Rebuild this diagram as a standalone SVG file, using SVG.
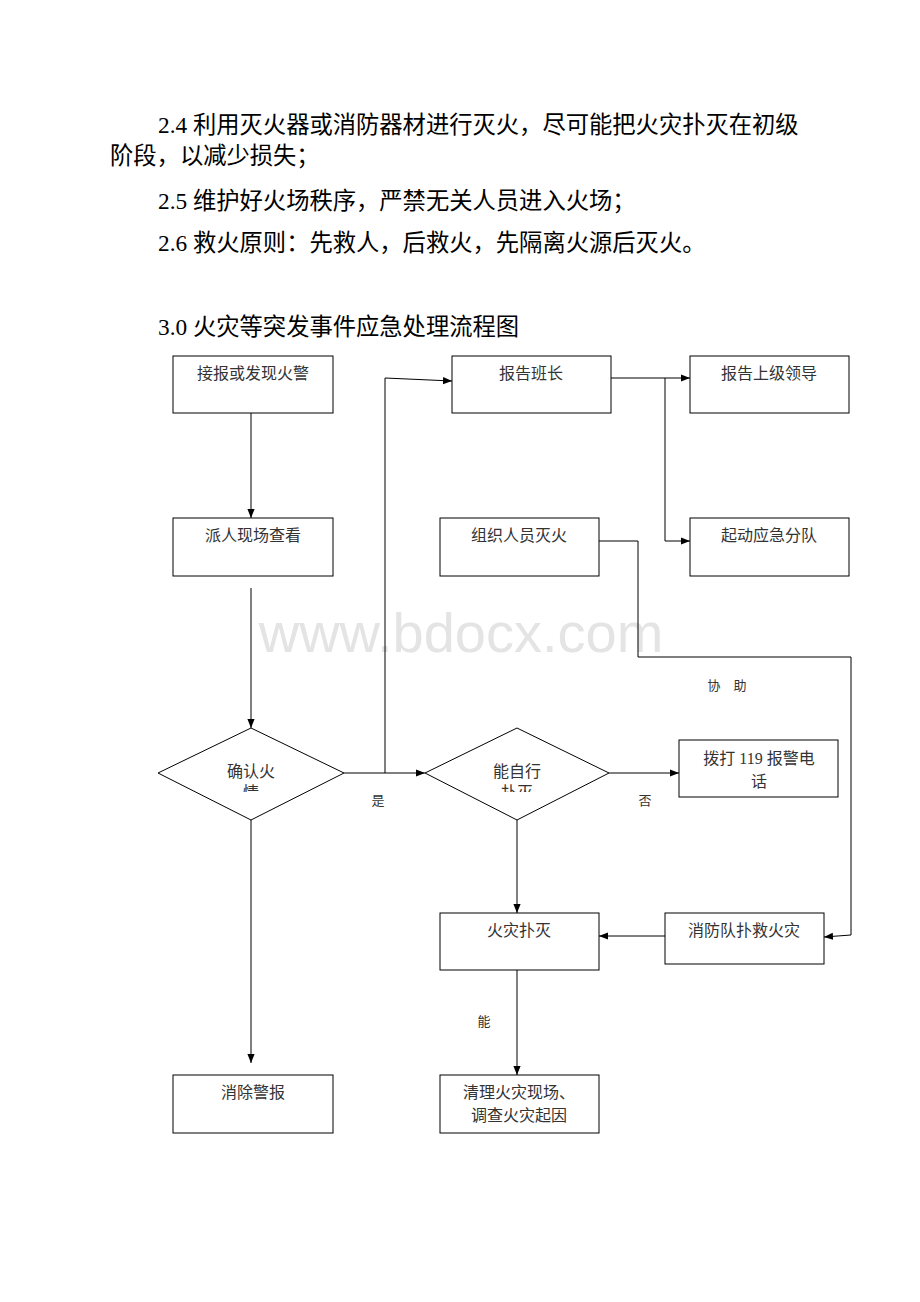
<svg xmlns="http://www.w3.org/2000/svg" width="920" height="1302" viewBox="0 0 920 1302">
<style>
.p{font-family:"Liberation Serif","Noto Sans CJK SC",serif;font-size:23.3px;fill:#000}
.n{fill:#fff;stroke:#000;stroke-width:1}
.t{font-family:"Liberation Serif","Noto Sans CJK SC",serif;font-size:16px;fill:#333;text-anchor:middle}
.l{font-family:"Liberation Serif","Noto Sans CJK SC",serif;font-size:13px;fill:#333;text-anchor:middle}
.c{fill:none;stroke:#000;stroke-width:1}
</style>
<defs>
<marker id="a" viewBox="0 0 10 10" refX="10" refY="5" markerWidth="9" markerHeight="9" markerUnits="userSpaceOnUse" orient="auto"><path d="M0,1 L10,5 L0,9 z" fill="#000"/></marker>
<clipPath id="cl1"><rect x="150" y="760" width="200" height="32"/></clipPath>
<clipPath id="cl2"><rect x="420" y="760" width="200" height="32"/></clipPath>
</defs>
<rect width="920" height="1302" fill="#fff"/>
<g id="text-body">
<text class="p" x="158" y="133">2.4 利用灭火器或消防器材进行灭火，尽可能把火灾扑灭在初级</text>
<text class="p" x="110" y="164">阶段，以减少损失；</text>
<text class="p" x="158" y="209">2.5 维护好火场秩序，严禁无关人员进入火场；</text>
<text class="p" x="158" y="251">2.6 救火原则：先救人，后救火，先隔离火源后灭火。</text>
<text class="p" x="158" y="335">3.0 火灾等突发事件应急处理流程图</text>
</g>
<text x="461" y="652" font-family="Liberation Sans,Arial,sans-serif" font-size="56" fill="#e4e4e4" text-anchor="middle">www.bdocx.com</text>
<g id="connectors">
<path class="c" d="M251,413 V518" marker-end="url(#a)"/>
<path class="c" d="M251,588 V728" marker-end="url(#a)"/>
<path class="c" d="M344,773 H425" marker-end="url(#a)"/>
<path class="c" d="M385,773 V378 L452,381" marker-end="url(#a)"/>
<path class="c" d="M611,378 H690" marker-end="url(#a)"/>
<path class="c" d="M665,378 V541 H690" marker-end="url(#a)"/>
<path class="c" d="M599,541 H638 V657 H851 V935 L824,937" marker-end="url(#a)"/>
<path class="c" d="M609,773 H679" marker-end="url(#a)"/>
<path class="c" d="M517,820 V913" marker-end="url(#a)"/>
<path class="c" d="M665,936 H599" marker-end="url(#a)"/>
<path class="c" d="M517,970 V1075" marker-end="url(#a)"/>
<path class="c" d="M251,820 V1063" marker-end="url(#a)"/>
<text class="l" x="378" y="805">是</text>
<text class="l" x="645" y="805">否</text>
<text class="l" x="727" y="690">协　助</text>
<text class="l" x="484" y="1026">能</text>
</g>
<g id="n1"><rect class="n" x="173" y="356" width="160" height="57"/><text class="t" x="253" y="379">接报或发现火警</text></g>
<g id="n2"><rect class="n" x="452" y="356" width="159" height="57"/><text class="t" x="531" y="379">报告班长</text></g>
<g id="n3"><rect class="n" x="690" y="356" width="159" height="57"/><text class="t" x="769" y="379">报告上级领导</text></g>
<g id="n4"><rect class="n" x="173" y="518" width="160" height="58"/><text class="t" x="253" y="541">派人现场查看</text></g>
<g id="n5"><rect class="n" x="440" y="518" width="159" height="58"/><text class="t" x="519" y="541">组织人员灭火</text></g>
<g id="n6"><rect class="n" x="690" y="518" width="159" height="58"/><text class="t" x="769" y="541">起动应急分队</text></g>
<g id="d1"><path class="n" d="M251,728 L344,773 L251,820 L158,773 z"/><text class="t" x="251" y="777">确认火</text><text class="t" x="251" y="798" clip-path="url(#cl1)">情</text></g>
<g id="d2"><path class="n" d="M517,728 L609,773 L517,820 L425,773 z"/><text class="t" x="517" y="777">能自行</text><text class="t" x="517" y="798" clip-path="url(#cl2)">扑灭</text></g>
<g id="n7"><rect class="n" x="679" y="740" width="159" height="57"/><text class="t" x="759" y="764">拨打 119 报警电</text><text class="t" x="759" y="787">话</text></g>
<g id="n8"><rect class="n" x="440" y="913" width="159" height="57"/><text class="t" x="519" y="936">火灾扑灭</text></g>
<g id="n9"><rect class="n" x="665" y="913" width="159" height="51"/><text class="t" x="744" y="936">消防队扑救火灾</text></g>
<g id="n10"><rect class="n" x="173" y="1075" width="160" height="58"/><text class="t" x="253" y="1098">消除警报</text></g>
<g id="n11"><rect class="n" x="440" y="1075" width="159" height="58"/><text class="t" x="519" y="1098">清理火灾现场、</text><text class="t" x="519" y="1121">调查火灾起因</text></g>
</svg>
